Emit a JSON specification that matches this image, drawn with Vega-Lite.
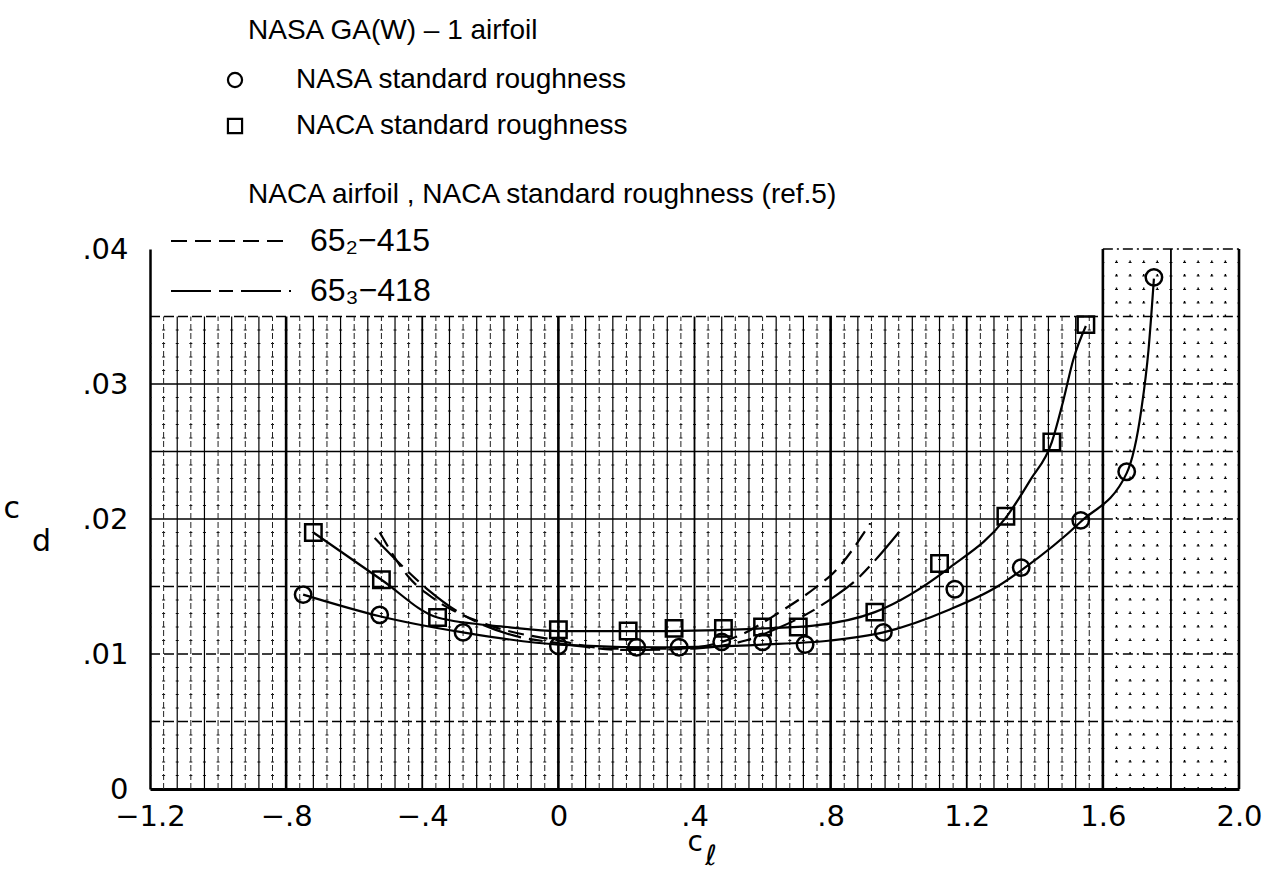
{
  "$schema": "https://vega.github.io/schema/vega-lite/v6.json",
  "width": 1089,
  "height": 540,
  "autosize": {"type": "none"},
  "padding": {"left": 150, "top": 249, "right": 43, "bottom": 82},
  "background": "white",
  "title": {
    "text": "NASA GA(W) – 1 airfoil",
    "subtitle": "NACA airfoil , NACA standard roughness (ref.5)",
    "anchor": "start",
    "frame": "group",
    "dx": 98,
    "offset": -143,
    "subtitlePadding": 136,
    "font": "Liberation Sans",
    "fontSize": 28,
    "fontWeight": "normal",
    "color": "black",
    "subtitleFont": "Liberation Sans",
    "subtitleFontSize": 28,
    "subtitleColor": "black"
  },
  "datasets": {
    "vthick": [
      {"x": -0.8, "y1": 0, "y2": 0.035}, {"x": 0, "y1": 0, "y2": 0.035}, {"x": 0.8, "y1": 0, "y2": 0.035},
      {"x": 1.6, "y1": 0, "y2": 0.04}, {"x": 2.0, "y1": 0, "y2": 0.04}
    ],
    "vmed": [
      {"x": -0.4, "y1": 0, "y2": 0.035}, {"x": 0.4, "y1": 0, "y2": 0.035}, {"x": 1.2, "y1": 0, "y2": 0.035},
      {"x": 1.8, "y1": 0, "y2": 0.04}
    ],
    "vthin": [
      {"x": -1.12, "y1": 0, "y2": 0.035}, {"x": -1.04, "y1": 0, "y2": 0.035}, {"x": -0.96, "y1": 0, "y2": 0.035}, {"x": -0.88, "y1": 0, "y2": 0.035},
      {"x": -0.72, "y1": 0, "y2": 0.035}, {"x": -0.64, "y1": 0, "y2": 0.035}, {"x": -0.56, "y1": 0, "y2": 0.035}, {"x": -0.48, "y1": 0, "y2": 0.035},
      {"x": -0.32, "y1": 0, "y2": 0.035}, {"x": -0.24, "y1": 0, "y2": 0.035}, {"x": -0.16, "y1": 0, "y2": 0.035}, {"x": -0.08, "y1": 0, "y2": 0.035},
      {"x": 0.08, "y1": 0, "y2": 0.035}, {"x": 0.16, "y1": 0, "y2": 0.035}, {"x": 0.24, "y1": 0, "y2": 0.035}, {"x": 0.32, "y1": 0, "y2": 0.035},
      {"x": 0.48, "y1": 0, "y2": 0.035}, {"x": 0.56, "y1": 0, "y2": 0.035}, {"x": 0.64, "y1": 0, "y2": 0.035}, {"x": 0.72, "y1": 0, "y2": 0.035},
      {"x": 0.88, "y1": 0, "y2": 0.035}, {"x": 0.96, "y1": 0, "y2": 0.035}, {"x": 1.04, "y1": 0, "y2": 0.035}, {"x": 1.12, "y1": 0, "y2": 0.035},
      {"x": 1.28, "y1": 0, "y2": 0.035}, {"x": 1.36, "y1": 0, "y2": 0.035}, {"x": 1.44, "y1": 0, "y2": 0.035}, {"x": 1.52, "y1": 0, "y2": 0.035}
    ],
    "vdash": [
      {"x": -1.16, "y1": 0, "y2": 0.035}, {"x": -1.08, "y1": 0, "y2": 0.035}, {"x": -1.0, "y1": 0, "y2": 0.035}, {"x": -0.92, "y1": 0, "y2": 0.035},
      {"x": -0.84, "y1": 0, "y2": 0.035}, {"x": -0.76, "y1": 0, "y2": 0.035}, {"x": -0.68, "y1": 0, "y2": 0.035}, {"x": -0.6, "y1": 0, "y2": 0.035},
      {"x": -0.52, "y1": 0, "y2": 0.035}, {"x": -0.44, "y1": 0, "y2": 0.035}, {"x": -0.36, "y1": 0, "y2": 0.035}, {"x": -0.28, "y1": 0, "y2": 0.035},
      {"x": -0.2, "y1": 0, "y2": 0.035}, {"x": -0.12, "y1": 0, "y2": 0.035}, {"x": -0.04, "y1": 0, "y2": 0.035}, {"x": 0.04, "y1": 0, "y2": 0.035},
      {"x": 0.12, "y1": 0, "y2": 0.035}, {"x": 0.2, "y1": 0, "y2": 0.035}, {"x": 0.28, "y1": 0, "y2": 0.035}, {"x": 0.36, "y1": 0, "y2": 0.035},
      {"x": 0.44, "y1": 0, "y2": 0.035}, {"x": 0.52, "y1": 0, "y2": 0.035}, {"x": 0.6, "y1": 0, "y2": 0.035}, {"x": 0.68, "y1": 0, "y2": 0.035},
      {"x": 0.76, "y1": 0, "y2": 0.035}, {"x": 0.84, "y1": 0, "y2": 0.035}, {"x": 0.92, "y1": 0, "y2": 0.035}, {"x": 1.0, "y1": 0, "y2": 0.035},
      {"x": 1.08, "y1": 0, "y2": 0.035}, {"x": 1.16, "y1": 0, "y2": 0.035}, {"x": 1.24, "y1": 0, "y2": 0.035}, {"x": 1.32, "y1": 0, "y2": 0.035},
      {"x": 1.4, "y1": 0, "y2": 0.035}, {"x": 1.48, "y1": 0, "y2": 0.035}, {"x": 1.56, "y1": 0, "y2": 0.035}
    ],
    "vdot": [
      {"x": 1.64, "y1": 0, "y2": 0.04}, {"x": 1.68, "y1": 0, "y2": 0.04}, {"x": 1.72, "y1": 0, "y2": 0.04}, {"x": 1.76, "y1": 0, "y2": 0.04},
      {"x": 1.84, "y1": 0, "y2": 0.04}, {"x": 1.88, "y1": 0, "y2": 0.04}, {"x": 1.92, "y1": 0, "y2": 0.04}, {"x": 1.96, "y1": 0, "y2": 0.04}
    ],
    "hsolid": [
      {"y": 0.02, "x1": -1.2, "x2": 1.6}, {"y": 0.025, "x1": -1.2, "x2": 1.6}, {"y": 0.03, "x1": -1.2, "x2": 1.6}
    ],
    "hdash": [
      {"y": 0.005, "x1": -1.2, "x2": 1.6}, {"y": 0.01, "x1": -1.2, "x2": 1.6}, {"y": 0.015, "x1": -1.2, "x2": 1.6}, {"y": 0.035, "x1": -1.2, "x2": 1.6}
    ],
    "hdashR": [
      {"y": 0.005, "x1": 1.6, "x2": 2.0}, {"y": 0.01, "x1": 1.6, "x2": 2.0}, {"y": 0.015, "x1": 1.6, "x2": 2.0}, {"y": 0.02, "x1": 1.6, "x2": 2.0},
      {"y": 0.025, "x1": 1.6, "x2": 2.0}, {"y": 0.03, "x1": 1.6, "x2": 2.0}, {"y": 0.035, "x1": 1.6, "x2": 2.0}, {"y": 0.04, "x1": 1.6, "x2": 2.0}
    ],
    "hminor": [
      {"y": 0.001, "x1": -1.2, "x2": 2.0}, {"y": 0.002, "x1": -1.2, "x2": 2.0}, {"y": 0.003, "x1": -1.2, "x2": 2.0}, {"y": 0.004, "x1": -1.2, "x2": 2.0},
      {"y": 0.006, "x1": -1.2, "x2": 2.0}, {"y": 0.007, "x1": -1.2, "x2": 2.0}, {"y": 0.008, "x1": -1.2, "x2": 2.0}, {"y": 0.009, "x1": -1.2, "x2": 2.0},
      {"y": 0.011, "x1": -1.2, "x2": 2.0}, {"y": 0.012, "x1": -1.2, "x2": 2.0}, {"y": 0.013, "x1": -1.2, "x2": 2.0}, {"y": 0.014, "x1": -1.2, "x2": 2.0},
      {"y": 0.016, "x1": -1.2, "x2": 2.0}, {"y": 0.017, "x1": -1.2, "x2": 2.0}, {"y": 0.018, "x1": -1.2, "x2": 2.0}, {"y": 0.019, "x1": -1.2, "x2": 2.0},
      {"y": 0.021, "x1": -1.2, "x2": 2.0}, {"y": 0.022, "x1": -1.2, "x2": 2.0}, {"y": 0.023, "x1": -1.2, "x2": 2.0}, {"y": 0.024, "x1": -1.2, "x2": 2.0},
      {"y": 0.026, "x1": -1.2, "x2": 2.0}, {"y": 0.027, "x1": -1.2, "x2": 2.0}, {"y": 0.028, "x1": -1.2, "x2": 2.0}, {"y": 0.029, "x1": -1.2, "x2": 2.0},
      {"y": 0.031, "x1": -1.2, "x2": 2.0}, {"y": 0.032, "x1": -1.2, "x2": 2.0}, {"y": 0.033, "x1": -1.2, "x2": 2.0}, {"y": 0.034, "x1": -1.2, "x2": 2.0},
      {"y": 0.036, "x1": 1.6, "x2": 2.0}, {"y": 0.037, "x1": 1.6, "x2": 2.0}, {"y": 0.038, "x1": 1.6, "x2": 2.0}, {"y": 0.039, "x1": 1.6, "x2": 2.0}
    ],
    "points": [
      {"series": "NASA standard roughness", "cl": -0.75, "cd": 0.0144},
      {"series": "NASA standard roughness", "cl": -0.525, "cd": 0.0129},
      {"series": "NASA standard roughness", "cl": -0.28, "cd": 0.0116},
      {"series": "NASA standard roughness", "cl": 0.0, "cd": 0.0106},
      {"series": "NASA standard roughness", "cl": 0.23, "cd": 0.0105},
      {"series": "NASA standard roughness", "cl": 0.355, "cd": 0.0105},
      {"series": "NASA standard roughness", "cl": 0.48, "cd": 0.0109},
      {"series": "NASA standard roughness", "cl": 0.6, "cd": 0.0109},
      {"series": "NASA standard roughness", "cl": 0.725, "cd": 0.0107},
      {"series": "NASA standard roughness", "cl": 0.955, "cd": 0.0116},
      {"series": "NASA standard roughness", "cl": 1.165, "cd": 0.0148},
      {"series": "NASA standard roughness", "cl": 1.36, "cd": 0.0164},
      {"series": "NASA standard roughness", "cl": 1.535, "cd": 0.0199},
      {"series": "NASA standard roughness", "cl": 1.67, "cd": 0.0235},
      {"series": "NASA standard roughness", "cl": 1.75, "cd": 0.0379},
      {"series": "NACA standard roughness", "cl": -0.72, "cd": 0.019},
      {"series": "NACA standard roughness", "cl": -0.52, "cd": 0.0155},
      {"series": "NACA standard roughness", "cl": -0.355, "cd": 0.0127},
      {"series": "NACA standard roughness", "cl": 0.0, "cd": 0.0118},
      {"series": "NACA standard roughness", "cl": 0.205, "cd": 0.0117},
      {"series": "NACA standard roughness", "cl": 0.34, "cd": 0.0119},
      {"series": "NACA standard roughness", "cl": 0.485, "cd": 0.0119},
      {"series": "NACA standard roughness", "cl": 0.6, "cd": 0.012},
      {"series": "NACA standard roughness", "cl": 0.705, "cd": 0.012},
      {"series": "NACA standard roughness", "cl": 0.93, "cd": 0.0131},
      {"series": "NACA standard roughness", "cl": 1.12, "cd": 0.0167},
      {"series": "NACA standard roughness", "cl": 1.315, "cd": 0.0202},
      {"series": "NACA standard roughness", "cl": 1.45, "cd": 0.0257},
      {"series": "NACA standard roughness", "cl": 1.55, "cd": 0.0344}
    ],
    "curves": [
      {"series": "NASA standard roughness", "cl": -0.75, "cd": 0.0144},
      {"series": "NASA standard roughness", "cl": -0.525, "cd": 0.0128},
      {"series": "NASA standard roughness", "cl": -0.28, "cd": 0.0116},
      {"series": "NASA standard roughness", "cl": 0.0, "cd": 0.0107},
      {"series": "NASA standard roughness", "cl": 0.3, "cd": 0.0105},
      {"series": "NASA standard roughness", "cl": 0.6, "cd": 0.0107},
      {"series": "NASA standard roughness", "cl": 0.8, "cd": 0.011},
      {"series": "NASA standard roughness", "cl": 0.955, "cd": 0.0116},
      {"series": "NASA standard roughness", "cl": 1.15, "cd": 0.0133},
      {"series": "NASA standard roughness", "cl": 1.29, "cd": 0.015},
      {"series": "NASA standard roughness", "cl": 1.36, "cd": 0.0162},
      {"series": "NASA standard roughness", "cl": 1.535, "cd": 0.0198},
      {"series": "NASA standard roughness", "cl": 1.67, "cd": 0.0234},
      {"series": "NASA standard roughness", "cl": 1.713, "cd": 0.0281},
      {"series": "NASA standard roughness", "cl": 1.734, "cd": 0.0325},
      {"series": "NASA standard roughness", "cl": 1.75, "cd": 0.0378},
      {"series": "NACA standard roughness", "cl": -0.72, "cd": 0.019},
      {"series": "NACA standard roughness", "cl": -0.52, "cd": 0.0155},
      {"series": "NACA standard roughness", "cl": -0.355, "cd": 0.0127},
      {"series": "NACA standard roughness", "cl": -0.15, "cd": 0.012},
      {"series": "NACA standard roughness", "cl": 0.0, "cd": 0.0117},
      {"series": "NACA standard roughness", "cl": 0.3, "cd": 0.0117},
      {"series": "NACA standard roughness", "cl": 0.6, "cd": 0.0119},
      {"series": "NACA standard roughness", "cl": 0.75, "cd": 0.0121},
      {"series": "NACA standard roughness", "cl": 0.93, "cd": 0.0131},
      {"series": "NACA standard roughness", "cl": 1.15, "cd": 0.0164},
      {"series": "NACA standard roughness", "cl": 1.315, "cd": 0.0201},
      {"series": "NACA standard roughness", "cl": 1.387, "cd": 0.0229},
      {"series": "NACA standard roughness", "cl": 1.45, "cd": 0.0257},
      {"series": "NACA standard roughness", "cl": 1.484, "cd": 0.0288},
      {"series": "NACA standard roughness", "cl": 1.513, "cd": 0.0318},
      {"series": "NACA standard roughness", "cl": 1.55, "cd": 0.0343}
    ],
    "naca": [
      {"airfoil": "65₂−415", "cl": -0.525, "cd": 0.019},
      {"airfoil": "65₂−415", "cl": -0.44, "cd": 0.0157},
      {"airfoil": "65₂−415", "cl": -0.36, "cd": 0.014},
      {"airfoil": "65₂−415", "cl": -0.2, "cd": 0.0121},
      {"airfoil": "65₂−415", "cl": 0.0, "cd": 0.011},
      {"airfoil": "65₂−415", "cl": 0.15, "cd": 0.0104},
      {"airfoil": "65₂−415", "cl": 0.35, "cd": 0.0104},
      {"airfoil": "65₂−415", "cl": 0.526, "cd": 0.0113},
      {"airfoil": "65₂−415", "cl": 0.644, "cd": 0.013},
      {"airfoil": "65₂−415", "cl": 0.76, "cd": 0.015},
      {"airfoil": "65₂−415", "cl": 0.808, "cd": 0.016},
      {"airfoil": "65₂−415", "cl": 0.917, "cd": 0.0197},
      {"airfoil": "65₃−418", "cl": -0.54, "cd": 0.0186},
      {"airfoil": "65₃−418", "cl": -0.45, "cd": 0.0163},
      {"airfoil": "65₃−418", "cl": -0.38, "cd": 0.0147},
      {"airfoil": "65₃−418", "cl": -0.3, "cd": 0.0132},
      {"airfoil": "65₃−418", "cl": -0.15, "cd": 0.0115},
      {"airfoil": "65₃−418", "cl": 0.0, "cd": 0.0108},
      {"airfoil": "65₃−418", "cl": 0.2, "cd": 0.0103},
      {"airfoil": "65₃−418", "cl": 0.4, "cd": 0.0104},
      {"airfoil": "65₃−418", "cl": 0.55, "cd": 0.011},
      {"airfoil": "65₃−418", "cl": 0.644, "cd": 0.0119},
      {"airfoil": "65₃−418", "cl": 0.74, "cd": 0.0131},
      {"airfoil": "65₃−418", "cl": 0.808, "cd": 0.0142},
      {"airfoil": "65₃−418", "cl": 0.867, "cd": 0.0153},
      {"airfoil": "65₃−418", "cl": 0.94, "cd": 0.0172},
      {"airfoil": "65₃−418", "cl": 1.0, "cd": 0.019}
    ]
  },
  "layer": [
    {
      "data": {"name": "hminor"},
      "mark": {"type": "rule", "color": "#111", "strokeWidth": 1, "strokeDash": [3, 10.6125], "strokeDashOffset": 1.5},
      "encoding": {
        "y": {"field": "y", "type": "quantitative", "scale": {"domain": [0, 0.04], "nice": false, "zero": true},
          "axis": {
            "values": [0, 0.01, 0.02, 0.03, 0.04],
            "labelExpr": "datum.value == 0 ? '0' : replace(format(datum.value, '.2f'), '0.', '.')",
            "title": ["c", "\u200b\u00a0\u00a0\u00a0d"]
          }},
        "x": {"field": "x1", "type": "quantitative", "scale": {"domain": [-1.2, 2.0], "nice": false, "zero": false},
          "axis": {
            "values": [-1.2, -0.8, -0.4, 0, 0.4, 0.8, 1.2, 1.6, 2.0],
            "labelExpr": "datum.value == 0 ? '0' : replace(replace(format(datum.value, '.1f'), '0.', '.'), '-', '−')",
            "title": ["c", "\u200b\u00a0\u00a0ℓ"]
          }},
        "x2": {"field": "x2"}
      }
    },
    {
      "data": {"name": "hdash"},
      "mark": {"type": "rule", "color": "black", "strokeWidth": 1.3, "strokeDash": [10, 4]},
      "encoding": {
        "y": {"field": "y", "type": "quantitative", "scale": {"domain": [0, 0.04], "nice": false}},
        "x": {"field": "x1", "type": "quantitative", "scale": {"domain": [-1.2, 2.0], "nice": false, "zero": false}},
        "x2": {"field": "x2"}
      }
    },
    {
      "data": {"name": "hdashR"},
      "mark": {"type": "rule", "color": "black", "strokeWidth": 1.3, "strokeDash": [10, 4, 2, 4]},
      "encoding": {
        "y": {"field": "y", "type": "quantitative", "scale": {"domain": [0, 0.04], "nice": false}},
        "x": {"field": "x1", "type": "quantitative", "scale": {"domain": [-1.2, 2.0], "nice": false, "zero": false}},
        "x2": {"field": "x2"}
      }
    },
    {
      "data": {"name": "hsolid"},
      "mark": {"type": "rule", "color": "black", "strokeWidth": 1.6},
      "encoding": {
        "y": {"field": "y", "type": "quantitative", "scale": {"domain": [0, 0.04], "nice": false}},
        "x": {"field": "x1", "type": "quantitative", "scale": {"domain": [-1.2, 2.0], "nice": false, "zero": false}},
        "x2": {"field": "x2"}
      }
    },
    {
      "data": {"name": "vdash"},
      "mark": {"type": "rule", "color": "#222", "strokeWidth": 1, "strokeDash": [6, 3]},
      "encoding": {
        "x": {"field": "x", "type": "quantitative", "scale": {"domain": [-1.2, 2.0], "nice": false, "zero": false}},
        "y": {"field": "y1", "type": "quantitative", "scale": {"domain": [0, 0.04], "nice": false}},
        "y2": {"field": "y2"}
      }
    },
    {
      "data": {"name": "vdot"},
      "mark": {"type": "rule", "color": "black", "strokeWidth": 1.4, "strokeDash": [2, 11.5]},
      "encoding": {
        "x": {"field": "x", "type": "quantitative", "scale": {"domain": [-1.2, 2.0], "nice": false, "zero": false}},
        "y": {"field": "y1", "type": "quantitative", "scale": {"domain": [0, 0.04], "nice": false}},
        "y2": {"field": "y2"}
      }
    },
    {
      "data": {"name": "vthin"},
      "mark": {"type": "rule", "color": "black", "strokeWidth": 1.2},
      "encoding": {
        "x": {"field": "x", "type": "quantitative", "scale": {"domain": [-1.2, 2.0], "nice": false, "zero": false}},
        "y": {"field": "y1", "type": "quantitative", "scale": {"domain": [0, 0.04], "nice": false}},
        "y2": {"field": "y2"}
      }
    },
    {
      "data": {"name": "vmed"},
      "mark": {"type": "rule", "color": "black", "strokeWidth": 1.8},
      "encoding": {
        "x": {"field": "x", "type": "quantitative", "scale": {"domain": [-1.2, 2.0], "nice": false, "zero": false}},
        "y": {"field": "y1", "type": "quantitative", "scale": {"domain": [0, 0.04], "nice": false}},
        "y2": {"field": "y2"}
      }
    },
    {
      "data": {"name": "vthick"},
      "mark": {"type": "rule", "color": "black", "strokeWidth": 2.6},
      "encoding": {
        "x": {"field": "x", "type": "quantitative", "scale": {"domain": [-1.2, 2.0], "nice": false, "zero": false}},
        "y": {"field": "y1", "type": "quantitative", "scale": {"domain": [0, 0.04], "nice": false}},
        "y2": {"field": "y2"}
      }
    },
    {
      "data": {"name": "naca"},
      "mark": {"type": "line", "color": "black", "strokeWidth": 2.2, "interpolate": "monotone"},
      "encoding": {
        "x": {"field": "cl", "type": "quantitative", "scale": {"domain": [-1.2, 2.0], "nice": false, "zero": false}},
        "y": {"field": "cd", "type": "quantitative", "scale": {"domain": [0, 0.04], "nice": false}},
        "strokeDash": {
          "field": "airfoil", "type": "nominal",
          "scale": {"domain": ["65₂−415", "65₃−418"], "range": [[16, 8], [40, 8, 14, 8]]},
          "legend": {
            "orient": "none", "legendX": 20, "legendY": -33, "title": null, "direction": "vertical",
            "symbolType": "stroke", "symbolSize": 14400, "symbolStrokeWidth": 2, "symbolStrokeColor": "black",
            "labelFont": "Liberation Sans", "labelFontSize": 32, "labelColor": "black", "labelOffset": 18,
            "labelLimit": 0, "rowPadding": 0, "clipHeight": 50
          }
        }
      }
    },
    {
      "data": {"name": "curves"},
      "mark": {"type": "line", "color": "black", "strokeWidth": 2.2, "interpolate": "monotone"},
      "encoding": {
        "x": {"field": "cl", "type": "quantitative", "scale": {"domain": [-1.2, 2.0], "nice": false, "zero": false}},
        "y": {"field": "cd", "type": "quantitative", "scale": {"domain": [0, 0.04], "nice": false}},
        "detail": {"field": "series", "type": "nominal"}
      }
    },
    {
      "data": {"name": "points"},
      "mark": {"type": "point", "filled": false, "color": "black", "strokeWidth": 2.5, "size": 270, "opacity": 1},
      "encoding": {
        "x": {"field": "cl", "type": "quantitative", "scale": {"domain": [-1.2, 2.0], "nice": false, "zero": false}},
        "y": {"field": "cd", "type": "quantitative", "scale": {"domain": [0, 0.04], "nice": false}},
        "shape": {
          "field": "series", "type": "nominal",
          "scale": {"domain": ["NASA standard roughness", "NACA standard roughness"], "range": ["circle", "square"]},
          "legend": {
            "orient": "none", "legendX": 71, "legendY": -183, "title": null, "direction": "vertical",
            "symbolSize": 200, "symbolStrokeWidth": 2.2, "symbolStrokeColor": "black", "symbolFillColor": "transparent",
            "labelFont": "Liberation Sans", "labelFontSize": 28, "labelColor": "black", "labelOffset": 47,
            "labelLimit": 0, "rowPadding": 18
          }
        }
      }
    }
  ],
  "config": {
    "view": {"stroke": null},
    "axisX": {
      "ticks": false, "grid": false,
      "domainColor": "black", "domainWidth": 3,
      "labelFont": "DejaVu Sans", "labelFontSize": 29, "labelColor": "black", "labelPadding": 13,
      "labelFlush": false, "labelOverlap": false,
      "titleFont": "DejaVu Sans", "titleFontSize": 28, "titleFontWeight": "normal", "titleColor": "black",
      "titleAlign": "left", "titleBaseline": "alphabetic",
      "titleX": 537, "titleY": 61, "titleLineHeight": 14
    },
    "axisY": {
      "ticks": false, "grid": false,
      "domainColor": "black", "domainWidth": 2.5,
      "labelFont": "DejaVu Sans", "labelFontSize": 29, "labelColor": "black", "labelPadding": 22,
      "labelFlush": false, "labelOverlap": false,
      "titleFont": "DejaVu Sans", "titleFontSize": 30, "titleFontWeight": "normal", "titleColor": "black",
      "titleAngle": 0, "titleAlign": "left", "titleBaseline": "alphabetic",
      "titleX": -147, "titleY": 268, "titleLineHeight": 33
    }
  }
}
